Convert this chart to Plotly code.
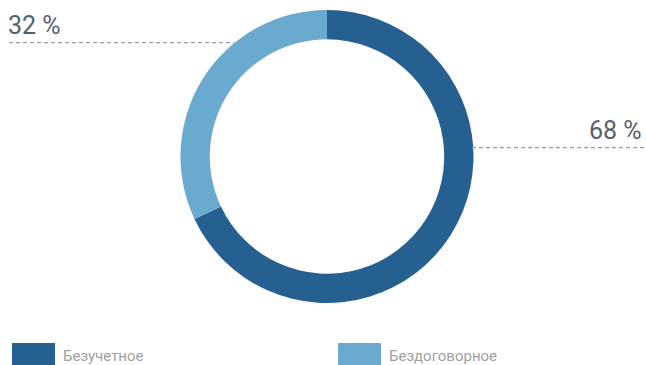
import plotly.graph_objects as go

categories = ["Безучетное", "Бездоговорное"]
values = [68, 32]
colors = ["#266091", "#6aaacf"]

W, H = 646, 365
cx, cy, R = 327, 156.5, 146.5

fig = go.Figure(go.Pie(
    labels=categories, values=values, hole=0.80, sort=False,
    direction="clockwise", rotation=0,
    marker=dict(colors=colors, line=dict(width=0)),
    textinfo="none", hoverinfo="label+percent", showlegend=False,
    domain=dict(x=[(cx - R) / W, (cx + R) / W], y=[1 - (cy + R) / H, 1 - (cy - R) / H]),
))

font_name = "Roboto, sans-serif"
label_color = "#55606e"

def px_x(x):
    return x / W

def px_y(y):
    return 1 - y / H

shapes = []
annotations = []
dash_style = "4px,3px"
# 68 % label (right)
shapes.append(dict(type="line", xref="paper", yref="paper", x0=px_x(472), x1=px_x(646),
                   y0=px_y(147.7), y1=px_y(147.7), line=dict(color="#9a9a9a", width=1.3, dash=dash_style)))
annotations.append(dict(xref="paper", yref="paper", x=px_x(644), y=px_y(130.5), xanchor="right", yanchor="middle",
                        text=f"{values[0]} %", showarrow=False, font=dict(family=font_name, size=25, color=label_color)))
# 32 % label (left)
shapes.append(dict(type="line", xref="paper", yref="paper", x0=px_x(9), x1=px_x(234),
                   y0=px_y(42.7), y1=px_y(42.7), line=dict(color="#9a9a9a", width=1.3, dash=dash_style)))
annotations.append(dict(xref="paper", yref="paper", x=px_x(6), y=px_y(25.5), xanchor="left", yanchor="middle",
                        text=f"{values[1]} %", showarrow=False, font=dict(family=font_name, size=25, color=label_color)))

# legend
leg_x = [12, 338]
for i, (cat, col) in enumerate(zip(categories, colors)):
    x0 = leg_x[i]
    shapes.append(dict(type="rect", xref="paper", yref="paper", x0=px_x(x0), x1=px_x(x0 + 43),
                       y0=px_y(366), y1=px_y(343), fillcolor=col, line=dict(width=0)))
    annotations.append(dict(xref="paper", yref="paper", x=px_x(x0 + 49), y=px_y(356), xanchor="left", yanchor="middle",
                            text=cat, showarrow=False, font=dict(family=font_name, size=15, color="#a0a0a0")))

fig.update_layout(
    width=W, height=H, margin=dict(l=0, r=0, t=0, b=0),
    paper_bgcolor="white", plot_bgcolor="white",
    shapes=shapes, annotations=annotations,
)
fig.write_html("out.html", config={"displayModeBar": False},
               post_script="document.body.style.margin='0';document.body.style.overflow='hidden';")
